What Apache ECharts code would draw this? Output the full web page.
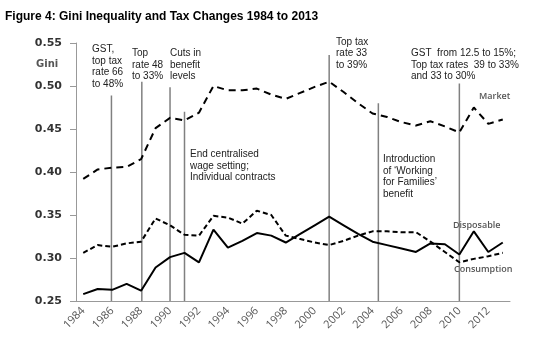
<!DOCTYPE html>
<html>
<head>
<meta charset="utf-8">
<script src="https://cdn.jsdelivr.net/npm/echarts@6/dist/echarts.min.js"></script>
<style>
html,body{margin:0;padding:0;background:#fff;}
#chart{width:535px;height:343px;}
</style>
</head>
<body>
<div id="chart"></div>
<script>
var years = ['1984','1985','1986','1987','1988','1989','1990','1991','1992','1993','1994','1995','1996','1997','1998','1999','2000','2001','2002','2003','2004','2005','2006','2007','2008','2009','2010','2011','2012','2013'];
var market = [0.392,0.403,0.405,0.406,0.415,0.451,0.463,0.460,0.469,0.500,0.495,0.495,0.497,0.490,0.485,0.492,0.499,0.505,0.493,0.480,0.468,0.464,0.458,0.454,0.459,0.453,0.446,0.475,0.456,0.461];
var disposable = [0.258,0.264,0.263,0.270,0.262,0.289,0.301,0.306,0.295,0.333,0.312,0.320,0.329,0.326,0.318,0.328,0.338,0.348,0.338,0.328,0.319,0.315,0.311,0.307,0.317,0.316,0.304,0.331,0.307,0.318];
var consumption = [0.306,0.315,0.313,0.317,0.319,0.346,0.338,0.327,0.326,0.349,0.347,0.340,0.355,0.350,0.326,0.322,0.318,0.315,0.320,0.326,0.331,0.331,0.330,0.330,0.319,0.307,0.295,0.299,0.302,0.306];
var yTicks = [0.25,0.30,0.35,0.40,0.45,0.50,0.55];
var eventYears = [1985.95,1988.05,1990,1991,2001,2004.4,2010];
var eventTops = [0.489,0.505,0.4985,0.470,0.536,0.480,0.503];
var eventTexts = [
  'GST,\ntop tax\nrate 66\nto 48%',
  'Top\nrate 48\nto 33%',
  'Cuts in\nbenefit\nlevels',
  'End centralised\nwage setting;\nIndividual contracts',
  'Top tax\nrate 33\nto 39%',
  'Introduction\nof \u2018Working\nfor Families\u2019\nbenefit',
  'GST  from 12.5 to 15%;\nTop tax rates  39 to 33%\nand 33 to 30%'
];
var eventTextPos = [[92,43.5],[132,47.5],[170,47.5],[190,148.5],[336,36],[383,153.5],[411,47.5]];
var seriesNames = ['Market','Disposable','Consumption'];
var seriesLabelPos = [[479,91.5],[453,220.5],[454,265]];

var chart = echarts.init(document.getElementById('chart'), null, {renderer:'canvas'});

var series = [];
eventYears.forEach(function(yr, i){
  series.push({
    type:'line', xAxisIndex:1, yAxisIndex:0, silent:true, symbol:'none', z:1,
    data:[[yr,0.25],[yr,eventTops[i]]],
    lineStyle:{color:'#808080', width:1.5}
  });
});
series.push({name:'Market', type:'line', data:market, symbol:'none', z:5,
  lineStyle:{color:'#000', width:2, type:[7,5]}});
series.push({name:'Consumption', type:'line', data:consumption, symbol:'none', z:5,
  lineStyle:{color:'#000', width:2, type:[5,3]}});
series.push({name:'Disposable', type:'line', data:disposable, symbol:'none', z:6,
  lineStyle:{color:'#000', width:2}});

var graphics = [
  {type:'text', left:5, top:11, style:{text:'Figure 4: Gini Inequality and Tax Changes 1984 to 2013', font:'bold 12px "Liberation Sans", Arial, sans-serif', fill:'#000'}},
  {type:'text', left:36, top:59, style:{text:'Gini', font:'bold 10px "DejaVu Sans", sans-serif', fill:'#555'}}
];
eventTexts.forEach(function(t, i){
  graphics.push({type:'text', left:eventTextPos[i][0], top:eventTextPos[i][1],
    style:{text:t, font:'10px "Liberation Sans", Arial, sans-serif', fill:'#222', lineHeight:11.5}});
});
seriesNames.forEach(function(t, i){
  graphics.push({type:'text', left:seriesLabelPos[i][0], top:seriesLabelPos[i][1],
    style:{text:t, font:'600 9px "Open Sans", sans-serif', fill:'#555'}});
});

chart.setOption({
  animation:false,
  backgroundColor:'#fff',
  grid:{left:76, right:25, top:43, bottom:42, containLabel:false},
  xAxis:[{
    type:'category', data:years, boundaryGap:true,
    axisLine:{lineStyle:{color:'#999', width:1}},
    axisTick:{interval:1, length:5, lineStyle:{color:'#999'}},
    axisLabel:{interval:1, rotate:45, margin:8, color:'#555', fontSize:11, fontFamily:'"Open Sans", sans-serif'},
    splitLine:{show:false}
  },{
    type:'value', min:1983.5, max:2013.5, show:false
  }],
  yAxis:{
    type:'value', min:yTicks[0], max:yTicks[yTicks.length-1], interval:0.05,
    axisLine:{show:true, lineStyle:{color:'#999', width:1}},
    axisTick:{show:true, length:6, lineStyle:{color:'#999'}},
    axisLabel:{margin:14, color:'#333', fontSize:11, fontWeight:'bold', fontFamily:'"DejaVu Sans", sans-serif',
      formatter:function(v){return v.toFixed(2);}},
    splitLine:{show:false}
  },
  series:series,
  graphic:graphics
});
</script>
</body>
</html>
